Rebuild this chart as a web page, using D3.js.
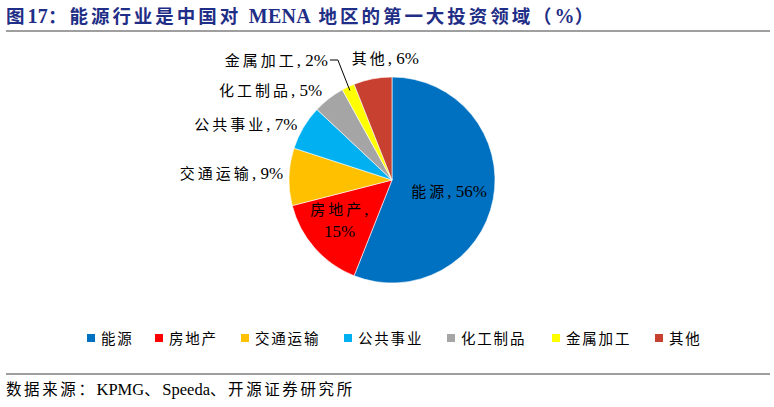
<!DOCTYPE html>
<html><head><meta charset="utf-8">
<script src="https://cdn.jsdelivr.net/npm/d3@7"></script>
<style>
html,body{margin:0;padding:0;background:#fff;}
svg{display:block;}
</style></head>
<body>
<svg id="chart" width="774" height="407"></svg>
<script>
const categories = ["能源","房地产","交通运输","公共事业","化工制品","金属加工","其他"];
const values = [56,15,9,7,5,2,6];
const colors = ["#0070C0","#FF0000","#FFC000","#00B0F0","#A5A5A5","#FFFF00","#C8402F"];
const titleParts = ["图","17","：能源行业是中国对 ","MENA"," 地区的第一大投资领域（","%","）"];
const sourceParts = ["数据来源：","KPMG","、","Speeda","、开源证券研究所"];

const svg = d3.select("#chart");
const serif = "'Liberation Serif','Times New Roman','Noto Sans CJK SC',serif";
const isLatin = s => /^[A-Za-z0-9%]+$/.test(s);

// Title
const t = svg.append("text").attr("x",6).attr("y",23)
  .attr("font-family",serif).attr("font-weight","bold").attr("font-size",18.5)
  .attr("fill","#1F2E86");
titleParts.forEach(p=>{
  t.append("tspan").attr("letter-spacing",isLatin(p)?0.3:2.95)
   .attr("font-size",isLatin(p)?20:18.5).text(p);
});

svg.append("line").attr("x1",6).attr("x2",770).attr("y1",31).attr("y2",31)
  .attr("stroke","#7f7f7f").attr("stroke-width",1.5);
svg.append("line").attr("x1",6).attr("x2",770).attr("y1",374).attr("y2",374)
  .attr("stroke","#7f7f7f").attr("stroke-width",1.5);
const st = svg.append("text").attr("x",6).attr("y",395).attr("font-family",serif)
  .attr("font-size",15.5).attr("fill","#000");
sourceParts.forEach(p=>{
  st.append("tspan").attr("letter-spacing",isLatin(p)?0:2.6)
    .attr("font-size",isLatin(p)?16.5:15.5).text(p);
});

// Pie
const cx = 392, cy = 180, R = 103;
const data = categories.map((c,i)=>({name:c,value:values[i],color:colors[i]}));
const pie = d3.pie().value(d=>d.value).sort(null);
const arcs = pie(data);
const arc = d3.arc().innerRadius(0).outerRadius(R);
const g = svg.append("g").attr("transform",`translate(${cx},${cy})`);
g.selectAll("path").data(arcs).join("path")
  .attr("d",arc).attr("fill",d=>d.data.color)
  .attr("stroke","#fff").attr("stroke-width",0.6);

// Labels
function labelText(sel, name, val, breakLine){
  sel.attr("font-family",serif).attr("font-size",15).attr("fill","#000");
  if(breakLine){
    sel.append("tspan").attr("x",0).attr("dy",0).attr("letter-spacing",3).text(name);
    sel.append("tspan").attr("font-size",17).text(",");
    sel.append("tspan").attr("x",0).attr("dy",22).attr("font-size",17).text(val+"%");
  } else {
    sel.append("tspan").attr("letter-spacing",3).text(name);
    sel.append("tspan").attr("font-size",17).text(", "+val+"%");
  }
}
const mid = d=>(d.startAngle+d.endAngle)/2;
const pt = (a,r)=>[Math.sin(a)*r,-Math.cos(a)*r];
const labelCfg = [
  {r:58, anchor:"middle", dx:0, dy:6, br:false},
  {r:62, anchor:"middle", dx:-6, dy:-6, br:true},
  {r:109, anchor:"end", dx:0, dy:2, br:false},
  {r:110, anchor:"end", dx:0, dy:6, br:false},
  {r:114, anchor:"end", dx:0, dy:6, br:false},
  {r:0, anchor:"end", dx:0, dy:0, br:false},
  {r:124, anchor:"start", dx:-17, dy:6, br:false}
];
arcs.forEach((d,i)=>{
  const c = labelCfg[i];
  const a = mid(d);
  if(i===5){
    const p0 = pt(a, R-4);
    const p1 = pt(a, R+10);
    const lx = p1[0]-6, ly = -120;
    g.append("path")
      .attr("d",`M${p0[0]},${p0[1]}L${lx},${ly}L${lx-8},${ly}`)
      .attr("fill","none").attr("stroke","#000").attr("stroke-width",1);
    const tx = g.append("text").attr("x",lx-10).attr("y",ly+6).attr("text-anchor","end");
    labelText(tx, d.data.name, d.data.value, false);
    return;
  }
  const p = pt(a, c.r);
  const tx = g.append("text").attr("transform",`translate(${p[0]+c.dx},${p[1]+c.dy})`)
    .attr("text-anchor",c.anchor);
  labelText(tx, d.data.name, d.data.value, c.br);
});

// Legend
const legendX = [87,155,241,344,447,552,655];
const lg = svg.append("g");
data.forEach((d,i)=>{
  lg.append("rect").attr("x",legendX[i]).attr("y",334).attr("width",8).attr("height",8).attr("fill",d.color);
  lg.append("text").attr("x",legendX[i]+14).attr("y",343.5)
    .attr("font-family",serif).attr("font-size",14.5).attr("letter-spacing",1.8)
    .attr("fill","#000").text(d.name);
});
</script>
</body></html>
